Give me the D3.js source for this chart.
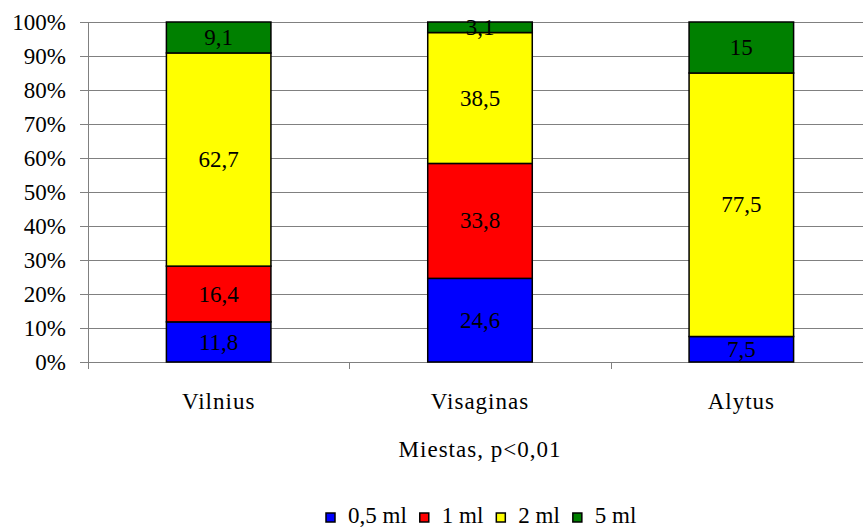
<!DOCTYPE html>
<html>
<head>
<meta charset="utf-8">
<script src="https://cdn.jsdelivr.net/npm/d3@7"></script>
<style>
  body { margin: 0; background: #fff; }
</style>
</head>
<body>
<div id="root"></div>
<script>
const cities = ["Vilnius", "Visaginas", "Alytus"];
const series = ["0,5 ml", "1 ml", "2 ml", "5 ml"];
const colors = ["#0000ff", "#ff0000", "#ffff00", "#008000"];
const vals05 = [11.8, 24.6, 7.5];
const vals1 = [16.4, 33.8, 0];
const vals2 = [62.7, 38.5, 77.5];
const vals5 = [9.1, 3.1, 15];
const yTicks = [0, 10, 20, 30, 40, 50, 60, 70, 80, 90, 100];
const xTitle = "Miestas, p<0,01";

const width = 863, height = 527;
const plotLeft = 88, plotRight = 872, plotTop = 22, plotBottom = 362;

const svg = d3.select("#root").append("svg")
    .attr("width", width)
    .attr("height", height);

const x = d3.scaleBand().domain(cities).range([plotLeft, plotRight]).padding(0);
const y = d3.scaleLinear().domain([0, 100]).range([plotBottom, plotTop]);

const rows = cities.map((c, i) => ({
  city: c,
  [series[0]]: vals05[i],
  [series[1]]: vals1[i],
  [series[2]]: vals2[i],
  [series[3]]: vals5[i]
}));
const stacked = d3.stack().keys(series)(rows);

// gridlines
svg.append("g")
  .selectAll("line")
  .data(yTicks)
  .join("line")
    .attr("x1", plotLeft - 8)
    .attr("x2", width)
    .attr("y1", d => Math.round(y(d)) + 0.5)
    .attr("y2", d => Math.round(y(d)) + 0.5)
    .attr("stroke", "#808080")
    .attr("stroke-width", 1);

// y labels
svg.append("g")
  .selectAll("text")
  .data(yTicks)
  .join("text")
    .attr("x", 66)
    .attr("y", d => y(d))
    .attr("dy", "0.33em")
    .attr("text-anchor", "end")
    .text(d => d + "%");

// y axis line
svg.append("line")
  .attr("x1", plotLeft + 0.5).attr("x2", plotLeft + 0.5)
  .attr("y1", plotTop).attr("y2", plotBottom + 7)
  .attr("stroke", "#808080");

// x category ticks
svg.append("g")
  .selectAll("line")
  .data(cities.slice(1))
  .join("line")
    .attr("x1", d => Math.round(x(d)) + 0.5)
    .attr("x2", d => Math.round(x(d)) + 0.5)
    .attr("y1", plotBottom)
    .attr("y2", plotBottom + 7)
    .attr("stroke", "#808080");

// bars
const bw = x.bandwidth() * 0.4;
const layer = svg.append("g")
  .selectAll("g")
  .data(stacked)
  .join("g")
    .attr("fill", (d, i) => colors[i]);

layer.selectAll("rect")
  .data(d => d.filter(s => s[1] - s[0] > 0))
  .join("rect")
    .attr("x", d => x(d.data.city) + (x.bandwidth() - bw) / 2)
    .attr("y", d => y(d[1]))
    .attr("width", bw)
    .attr("height", d => y(d[0]) - y(d[1]))
    .attr("stroke", "#000")
    .attr("stroke-width", 1.5);

layer.selectAll("text")
  .data(d => d.filter(s => s[1] - s[0] > 0))
  .join("text")
    .attr("x", d => x(d.data.city) + x.bandwidth() / 2)
    .attr("y", d => (y(d[0]) + y(d[1])) / 2)
    .attr("dy", "0.33em")
    .attr("text-anchor", "middle")
    .attr("fill", "#000")
    .text(d => String(+(d[1] - d[0]).toFixed(1)).replace(".", ","));

// category labels
svg.append("g")
  .selectAll("text")
  .data(cities)
  .join("text")
    .attr("class", "spaced")
    .attr("x", d => x(d) + x.bandwidth() / 2)
    .attr("y", 409)
    .attr("text-anchor", "middle")
    .text(d => d);

svg.append("text")
  .attr("class", "spaced")
  .attr("x", 480)
  .attr("y", 457)
  .attr("text-anchor", "middle")
  .text(xTitle);

// fonts set on each text so nothing else overrides them
svg.selectAll("text")
  .style("font-family", '"Liberation Serif"')
  .style("font-size", "23px");
svg.selectAll("text.spaced").style("letter-spacing", "1px");

// legend
const legend = svg.append("g");
let lx = 326;
series.forEach((s, i) => {
  legend.append("rect")
    .attr("x", lx).attr("y", 513)
    .attr("width", 9).attr("height", 9)
    .attr("fill", colors[i])
    .attr("stroke", "#000")
    .attr("stroke-width", 1.5);
  const t = legend.append("text")
    .attr("x", lx + 22)
    .attr("y", 523)
    .style("font-family", '"Liberation Serif"')
    .style("font-size", "23px")
    .text(s);
  lx += 22 + t.node().getComputedTextLength() + 13;
});
</script>
</body>
</html>
